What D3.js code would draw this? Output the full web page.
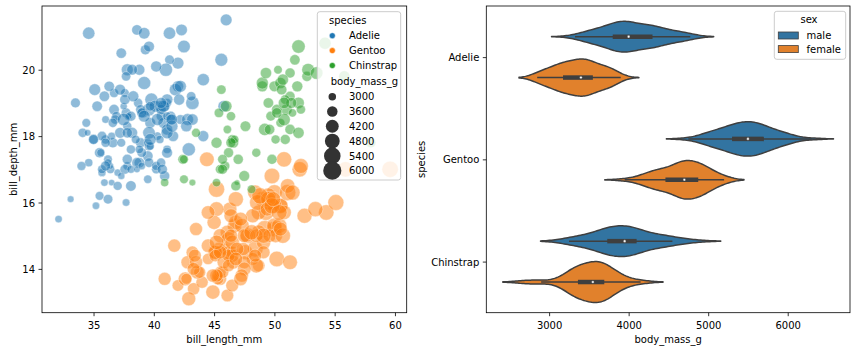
<!DOCTYPE html>
<html>
<head>
<meta charset="utf-8">
<script src="https://cdn.jsdelivr.net/npm/d3@7"></script>
<style>
  body { margin: 0; background: #fff; }
  svg text { font-family: 'DejaVu Sans', sans-serif; font-size: 10px; fill: #000; }
</style>
</head>
<body>
<svg id="chart" width="856" height="352"></svg>
<script>
// [bill_length_mm, bill_depth_mm, body_mass_g, sex]
const adelie = [
  [39.1,18.7,3750,'M'],[39.5,17.4,3800,'F'],[40.3,18.0,3250,'F'],[36.7,19.3,3450,'F'],[39.3,20.6,3650,'M'],
  [38.9,17.8,3625,'F'],[39.2,19.6,4675,'M'],[34.1,18.1,3475,null],[42.0,20.2,4250,null],[37.8,17.1,3300,null],
  [37.8,17.3,3700,null],[41.1,17.6,3200,'F'],[38.6,21.2,3800,'M'],[34.6,21.1,4400,'M'],[36.6,17.8,3700,'F'],
  [38.7,19.0,3450,'F'],[42.5,20.7,4500,'M'],[34.4,18.4,3325,'F'],[46.0,21.5,4200,'M'],[37.8,18.3,3400,'F'],
  [37.7,18.7,3600,'M'],[35.9,19.2,3800,'F'],[38.2,18.1,3950,'M'],[38.8,17.2,3800,'M'],[35.3,18.9,3800,'F'],
  [40.6,18.6,3550,'M'],[40.5,17.9,3200,'F'],[37.9,18.6,3150,'F'],[40.5,18.9,3950,'M'],[39.5,16.7,3250,'F'],
  [37.2,18.1,3900,'M'],[39.5,17.8,3300,'F'],[40.9,18.9,3900,'M'],[36.4,17.0,3325,'F'],[39.2,21.1,4150,'M'],
  [38.8,20.0,3950,'M'],[42.2,18.5,3550,'F'],[37.6,19.3,3300,'F'],[39.8,19.1,4650,'M'],[36.5,18.0,3150,'F'],
  [40.8,18.4,3900,'M'],[36.0,18.5,3100,'F'],[44.1,19.7,4400,'M'],[37.0,16.9,3000,'F'],[39.6,18.8,4600,'M'],
  [41.1,19.0,3425,'M'],[37.5,18.9,2975,null],[36.0,17.9,3450,'F'],[42.3,21.2,4150,'M'],[39.6,17.7,3500,'F'],
  [40.1,18.9,4300,'M'],[35.0,17.9,3450,'F'],[42.0,19.5,4050,'M'],[34.5,18.1,2900,'F'],[41.4,18.6,3700,'M'],
  [39.0,17.5,3550,'F'],[40.6,18.8,3800,'M'],[36.5,16.6,2850,'F'],[37.6,19.1,3750,'M'],[35.7,16.9,3150,'F'],
  [41.3,21.1,4400,'M'],[37.6,17.0,3600,'F'],[41.1,18.2,4050,'M'],[36.4,17.1,2850,'F'],[41.6,18.0,3950,'M'],
  [35.5,16.2,3350,'F'],[41.1,19.1,4100,'M'],[35.9,16.6,3050,'F'],[41.8,19.4,4450,'M'],[33.5,19.0,3600,'F'],
  [39.7,18.4,3900,'M'],[39.6,17.2,3550,'F'],[45.8,18.9,4150,'M'],[35.5,17.5,3700,'F'],[42.8,18.5,4250,'M'],
  [40.9,16.8,3700,'F'],[37.2,19.4,3900,'M'],[36.2,16.1,3550,'F'],[42.1,19.1,4000,'M'],[34.6,17.2,3200,'F'],
  [42.9,17.6,4700,'M'],[36.7,18.8,3800,'F'],[35.1,19.4,4200,'M'],[37.3,17.8,3350,'F'],[41.3,20.3,3550,'M'],
  [36.3,19.5,3800,'M'],[36.9,18.6,3500,'F'],[38.3,19.2,3950,'M'],[38.9,18.8,3600,'F'],[35.7,18.0,3550,'F'],
  [41.1,18.1,4300,'M'],[34.0,17.1,3400,'F'],[39.6,18.1,4450,'M'],[36.2,17.3,3300,'F'],[40.8,18.9,4300,'M'],
  [38.1,18.6,3700,'F'],[40.3,18.5,4350,'M'],[33.1,16.1,2900,'F'],[43.2,18.5,4100,'M'],[35.0,17.9,3725,'F'],
  [41.0,20.0,4725,'M'],[37.7,16.0,3075,'F'],[37.8,20.0,4250,'M'],[37.9,18.6,2925,'F'],[39.7,18.9,3550,'M'],
  [38.6,17.2,3750,'F'],[38.2,20.0,3900,'M'],[38.1,17.0,3175,'F'],[43.2,19.0,4775,'M'],[38.1,16.5,3825,'F'],
  [45.6,20.3,4600,'M'],[39.7,17.7,3200,'F'],[42.2,19.5,4275,'M'],[39.6,20.7,3900,'F'],[42.7,18.3,4075,'M'],
  [38.6,17.0,2900,'F'],[37.3,20.5,3775,'M'],[35.7,17.0,3350,'F'],[41.1,18.6,3325,'M'],[36.2,17.2,3150,'F'],
  [37.7,19.8,3500,'M'],[40.2,17.0,3450,'F'],[41.4,18.5,3875,'M'],[35.2,15.9,3050,'F'],[40.6,19.0,4000,'M'],
  [38.8,17.6,3275,'F'],[41.5,18.3,4300,'M'],[39.0,17.1,3050,'F'],[44.1,18.0,4000,'M'],[38.5,17.9,3325,'F'],
  [43.1,19.2,3500,'M'],[36.8,18.5,3500,'F'],[37.5,18.5,4475,'M'],[38.1,17.6,3425,'F'],[41.1,17.5,3900,'M'],
  [35.6,17.5,3175,'F'],[40.2,20.1,3975,'M'],[37.0,16.5,3400,'F'],[39.7,17.9,4250,'M'],[40.2,17.1,3400,'F'],
  [40.6,17.2,3475,'M'],[32.1,15.5,3050,'F'],[40.7,17.0,3725,'M'],[37.3,16.8,3000,'F'],[39.0,18.7,3650,'M'],
  [39.2,18.6,4250,'M'],[36.6,18.4,3475,'F'],[36.0,17.8,3450,'F'],[37.8,18.1,3750,'M'],[36.0,17.1,3700,'F'],
  [41.5,18.5,4000,'M']
];

const gentoo = [
  [46.1,13.2,4500,'F'],[50.0,16.3,5700,'M'],[48.7,14.1,4450,'F'],[50.0,15.2,5700,'M'],[47.6,14.5,5400,'M'],
  [46.5,13.5,4550,'F'],[45.4,14.6,4800,'F'],[46.7,15.3,5200,'M'],[43.3,13.4,4400,'F'],[46.8,15.4,5150,'M'],
  [40.9,13.7,4650,'F'],[49.0,16.1,5550,'M'],[45.5,13.7,4650,'F'],[48.4,14.6,5850,'M'],[45.8,14.6,4200,'F'],
  [49.3,15.7,5850,'M'],[42.0,13.5,4150,'F'],[49.2,15.2,6300,'M'],[46.2,14.5,4800,'F'],[48.7,15.1,5350,'M'],
  [50.2,14.3,5700,'M'],[45.1,14.5,5000,'F'],[46.5,14.5,4400,'F'],[46.3,15.8,5050,'M'],[42.9,13.1,5000,'F'],
  [46.1,15.1,5100,'M'],[44.5,14.3,4100,null],[47.8,15.0,5650,'M'],[48.2,14.3,4600,'F'],[50.0,15.3,5550,'M'],
  [47.3,15.3,5250,'M'],[42.8,14.2,4700,'F'],[45.1,14.5,5050,'F'],[59.6,17.0,6050,'M'],[49.1,14.8,5150,'F'],
  [48.4,16.3,5400,'M'],[42.6,13.7,4950,'F'],[44.4,17.3,5250,'M'],[44.0,13.6,4350,'F'],[48.7,15.7,5350,'M'],
  [42.7,13.7,3950,'F'],[49.6,16.0,5700,'M'],[45.3,13.7,4300,'F'],[49.6,15.0,4750,'M'],[50.5,15.9,5550,'M'],
  [43.6,13.9,4900,'F'],[45.5,13.9,4200,'F'],[50.5,15.9,5400,'M'],[44.9,13.3,5100,'F'],[45.2,15.8,5300,'M'],
  [46.6,14.2,4850,'F'],[48.5,14.1,5300,'M'],[45.1,14.4,4400,'F'],[50.1,15.0,5000,'M'],[46.5,14.4,4900,'F'],
  [45.0,15.4,5050,'M'],[43.8,13.9,4300,'F'],[45.5,15.0,5000,'M'],[43.2,14.5,4450,'F'],[50.4,15.3,5550,'M'],
  [45.3,13.8,4200,'F'],[46.2,14.9,5300,'M'],[45.7,13.9,4400,'F'],[54.3,15.7,5650,'M'],[45.8,14.2,4700,'F'],
  [49.8,16.8,5700,'M'],[46.2,14.4,4650,null],[49.5,16.2,5800,'M'],[43.5,14.2,4700,'F'],[50.7,15.0,5550,'M'],
  [47.7,15.0,4750,'F'],[46.4,15.6,5000,'M'],[48.2,15.6,5100,'M'],[46.5,14.8,5200,'F'],[46.4,15.0,4700,'F'],
  [48.6,16.0,5800,'M'],[47.5,14.2,4600,'F'],[51.1,16.3,6000,'M'],[45.2,13.8,4750,'F'],[45.2,16.4,5950,'M'],
  [49.1,14.5,4625,'F'],[52.5,15.6,5450,'M'],[47.4,14.6,4725,'F'],[50.0,15.9,5350,'M'],[44.9,13.8,4750,'F'],
  [50.8,17.3,5600,'M'],[43.4,14.4,4600,'F'],[51.3,14.2,5300,'M'],[47.5,14.0,4875,'F'],[52.1,17.0,5550,'M'],
  [47.5,15.0,4950,'F'],[52.2,17.1,5400,'M'],[45.5,14.5,4750,'F'],[49.5,16.1,5650,'M'],[44.5,14.7,4850,'F'],
  [50.8,15.7,5200,'M'],[49.4,15.8,4925,'M'],[46.9,14.6,4875,'F'],[48.4,14.4,4625,'F'],[51.1,16.5,5250,'M'],
  [48.5,15.0,4850,'F'],[55.9,17.0,5600,'M'],[47.2,15.5,4975,'F'],[49.1,15.0,5500,'M'],[47.3,13.8,4725,null],
  [46.8,16.1,5500,'M'],[41.7,14.7,4700,'F'],[53.4,15.8,5500,'M'],[43.3,14.0,4575,'F'],[48.1,15.1,5500,'M'],
  [50.5,15.2,5000,'F'],[49.8,15.9,5950,'M'],[43.5,15.2,4650,'F'],[51.5,16.3,5500,'M'],[46.2,14.1,4375,'F'],
  [55.1,16.0,5850,'M'],[44.5,15.7,4875,null],[48.8,16.2,6000,'M'],[47.2,13.7,4925,'F'],[46.8,14.3,4850,'F'],
  [50.4,15.7,5750,'M'],[45.2,14.8,5200,'F'],[49.9,16.1,5400,'M']
];

const chinstrap = [
  [46.5,17.9,3500,'F'],[50.0,19.5,3900,'M'],[51.3,19.2,3650,'M'],[45.4,18.7,3525,'F'],[52.7,19.8,3725,'M'],
  [45.2,17.8,3950,'F'],[46.1,18.2,3250,'F'],[51.3,18.2,3750,'M'],[46.0,18.9,4150,'F'],[51.3,19.9,3700,'M'],
  [46.6,17.8,3800,'F'],[51.7,20.3,3775,'M'],[47.0,17.3,3700,'F'],[52.0,18.1,4050,'M'],[45.9,17.1,3575,'F'],
  [50.5,19.6,4050,'M'],[50.3,20.0,3300,'M'],[58.0,17.8,3700,'F'],[46.4,18.6,3450,'F'],[49.2,18.2,4400,'M'],
  [42.4,17.3,3600,'F'],[48.5,17.5,3400,'M'],[43.2,16.6,2900,'F'],[50.6,19.4,3800,'M'],[46.7,17.9,3300,'F'],
  [52.0,19.0,4150,'M'],[50.5,18.4,3400,'F'],[49.5,19.0,3800,'M'],[46.4,17.8,3700,'F'],[52.8,20.0,4550,'M'],
  [40.9,16.6,3200,'F'],[54.2,20.8,4300,'M'],[42.5,16.7,3350,'F'],[51.0,18.8,4100,'M'],[49.7,18.6,3600,'M'],
  [47.5,16.8,3900,'F'],[47.6,18.3,3850,'F'],[52.0,20.7,4800,'M'],[46.9,16.6,2700,'F'],[53.5,19.9,4500,'M'],
  [49.0,19.5,3950,'M'],[46.2,17.5,3650,'F'],[50.9,19.1,3550,'M'],[45.5,17.0,3500,'F'],[50.9,17.9,3675,'F'],
  [50.8,18.5,4450,'M'],[50.1,17.9,3400,'F'],[49.0,19.6,4300,'M'],[51.5,18.7,3250,'M'],[49.8,17.3,3675,'F'],
  [48.1,16.4,3325,'F'],[51.4,19.0,3950,'M'],[45.7,17.3,3600,'F'],[50.7,19.7,4050,'M'],[42.5,17.3,3350,'F'],
  [52.2,18.8,3450,'M'],[45.2,16.6,3250,'F'],[49.3,19.9,4050,'M'],[50.2,18.8,3800,'M'],[45.6,19.4,3525,'F'],
  [51.9,19.5,3950,'M'],[46.8,16.5,3650,'F'],[45.7,17.0,3650,'F'],[55.8,19.8,4000,'M'],[43.5,18.1,3400,'F'],
  [49.6,18.2,3775,'M'],[50.8,19.0,4100,'M'],[50.2,18.7,3775,'F']
];

const SPECIES = ['Adelie', 'Gentoo', 'Chinstrap'];
const SPECIES_COLORS = ['#1f77b4', '#ff7f0e', '#2ca02c'];
const SEXES = ['male', 'female'];
const SEX_CODES = ['M', 'F'];
const SEX_COLORS = ['#3274a1', '#e1812c'];
const LEFT_X_TICKS = [35, 40, 45, 50, 55, 60];
const LEFT_Y_TICKS = [14, 16, 18, 20];
const RIGHT_X_TICKS = [3000, 4000, 5000, 6000];
const SIZE_LEGEND = [3000, 3600, 4200, 4800, 5400, 6000];

const LEFT = { x0: 42, x1: 406.7, y0: 6, y1: 312.7 };
const RIGHT = { x0: 486.3, x1: 850, y0: 6, y1: 312.7 };
const GRAY = '#3f3f3f';
const FONT = "'DejaVu Sans', sans-serif";

const svg = d3.select('#chart');

const rows = [];
[adelie, gentoo, chinstrap].forEach((arr, i) => {
  arr.forEach(r => rows.push({ species: SPECIES[i], len: r[0], dep: r[1], mass: r[2], sex: r[3] }));
});

// matplotlib style 5% margins
function padded (ext) {
  const p = (ext[1] - ext[0]) * 0.05;
  return [ext[0] - p, ext[1] + p];
}

function styleAxis (g) {
  g.attr('font-family', FONT).attr('font-size', 10);
  g.select('.domain').remove();
  g.selectAll('.tick line').attr('stroke', '#000').attr('stroke-width', 0.8);
  g.selectAll('.tick text').attr('fill', '#000');
}

function frame (box) {
  svg.append('rect')
    .attr('x', box.x0).attr('y', box.y0)
    .attr('width', box.x1 - box.x0).attr('height', box.y1 - box.y0)
    .attr('fill', 'none').attr('stroke', '#000').attr('stroke-width', 0.8);
}

/* ---------- left: scatter ---------- */
const x = d3.scaleLinear().domain(padded(d3.extent(rows, d => d.len))).range([LEFT.x0, LEFT.x1]);
const y = d3.scaleLinear().domain(padded(d3.extent(rows, d => d.dep))).range([LEFT.y1, LEFT.y0]);
const sizeScale = d3.scaleLinear().domain(d3.extent(rows, d => d.mass)).range([30, 285]);
// legend handles come out a bit larger than the points in the reference
const legendSize = d3.scaleLinear().domain([3000, 6000]).range([56, 330]);
const color = d3.scaleOrdinal(SPECIES, SPECIES_COLORS);
const radius = m => Math.sqrt(sizeScale(m)) / 2;

svg.append('g')
  .selectAll('circle')
  .data(rows)
  .join('circle')
  .attr('cx', d => x(d.len))
  .attr('cy', d => y(d.dep))
  .attr('r', d => radius(d.mass))
  .attr('fill', d => color(d.species))
  .attr('fill-opacity', 0.5)
  .attr('stroke', '#fff')
  .attr('stroke-opacity', 0.5)
  .attr('stroke-width', 0.7);

svg.append('g')
  .attr('transform', `translate(0,${LEFT.y1})`)
  .call(d3.axisBottom(x).tickValues(LEFT_X_TICKS).tickSize(3.5).tickPadding(3.5))
  .call(styleAxis)
  .selectAll('.tick text').attr('y', 16.6).attr('dy', 0);

svg.append('g')
  .attr('transform', `translate(${LEFT.x0},0)`)
  .call(d3.axisLeft(y).tickValues(LEFT_Y_TICKS).tickSize(3.5).tickPadding(3.5))
  .call(styleAxis)
  .selectAll('.tick text').attr('dy', '0.36em');

frame(LEFT);

svg.append('text').attr('x', (LEFT.x0 + LEFT.x1) / 2).attr('y', 342.7)
  .attr('text-anchor', 'middle').text('bill_length_mm');
svg.append('text').attr('transform', `translate(17,${(LEFT.y0 + LEFT.y1) / 2}) rotate(-90)`)
  .attr('text-anchor', 'middle').text('bill_depth_mm');

// scatter legend
const lg = svg.append('g');
lg.append('rect')
  .attr('x', 317.3).attr('y', 11.7).attr('width', 83.4).attr('height', 168.3)
  .attr('rx', 2.5).attr('fill', '#fff').attr('fill-opacity', 0.8)
  .attr('stroke', '#ccc').attr('stroke-width', 1);
lg.append('text').attr('x', 329).attr('y', 23.7).text('species');
SPECIES.forEach((s, i) => {
  const cy = 35.7 + i * 14.9;
  lg.append('circle').attr('cx', 332.3).attr('cy', cy).attr('r', 3)
    .attr('fill', SPECIES_COLORS[i]).attr('stroke', '#fff').attr('stroke-width', 0.5);
  lg.append('text').attr('x', 349).attr('y', cy + 3.65).text(s);
});
lg.append('text').attr('x', 330.7).attr('y', 85.3).text('body_mass_g');
SIZE_LEGEND.forEach((m, i) => {
  const cy = 96.7 + i * 14.8;
  lg.append('circle').attr('cx', 332.3).attr('cy', cy).attr('r', Math.sqrt(legendSize(m)) / 2)
    .attr('fill', '#333');
  lg.append('text').attr('x', 349).attr('y', cy + 3.65).text(m);
});

/* ---------- right: violins ---------- */
function kde (values) {
  const n = values.length;
  const bw = d3.deviation(values) * Math.pow(n, -0.2);
  const lo = d3.min(values) - 2 * bw;
  const hi = d3.max(values) + 2 * bw;
  const k = 1 / (n * bw * Math.sqrt(2 * Math.PI));
  return d3.range(100).map(i => {
    const g = lo + (hi - lo) * i / 99;
    return [g, k * d3.sum(values, v => Math.exp(-0.5 * ((g - v) / bw) ** 2))];
  });
}

const groups = [];
SPECIES.forEach((s, i) => {
  SEXES.forEach((sex, j) => {
    const values = rows.filter(d => d.species === s && d.sex === SEX_CODES[j]).map(d => d.mass).sort(d3.ascending);
    groups.push({ i, j, values, density: kde(values) });
  });
});

const maxDensity = d3.max(groups, g => d3.max(g.density, d => d[1]));
const xr = d3.scaleLinear()
  .domain(padded([d3.min(groups, g => g.density[0][0]), d3.max(groups, g => g.density[g.density.length - 1][0])]))
  .range([RIGHT.x0, RIGHT.x1]);
const yr = d3.scaleLinear().domain([-0.5, 2.5]).range([RIGHT.y0, RIGHT.y1]);
const band = yr(1) - yr(0);

const vg = svg.append('g');
groups.forEach(g => {
  const center = yr(g.i + (g.j === 0 ? -0.2 : 0.2));
  const half = d => d[1] / maxDensity * 0.2 * band;
  const area = d3.area()
    .x(d => xr(d[0]))
    .y0(d => center - half(d))
    .y1(d => center + half(d));
  vg.append('path')
    .attr('d', area(g.density))
    .attr('fill', SEX_COLORS[g.j])
    .attr('stroke', GRAY)
    .attr('stroke-width', 1.5)
    .attr('stroke-linejoin', 'round');

  const q1 = d3.quantile(g.values, 0.25);
  const q2 = d3.quantile(g.values, 0.5);
  const q3 = d3.quantile(g.values, 0.75);
  const lim = 1.5 * (q3 - q1);
  const h1 = d3.min(g.values.filter(v => v >= q1 - lim));
  const h2 = d3.max(g.values.filter(v => v <= q3 + lim));
  vg.append('line').attr('x1', xr(h1)).attr('x2', xr(h2)).attr('y1', center).attr('y2', center)
    .attr('stroke', GRAY).attr('stroke-width', 1.5);
  vg.append('line').attr('x1', xr(q1)).attr('x2', xr(q3)).attr('y1', center).attr('y2', center)
    .attr('stroke', GRAY).attr('stroke-width', 4.5);
  vg.append('circle').attr('cx', xr(q2)).attr('cy', center).attr('r', 1.3)
    .attr('fill', '#fff').attr('stroke', GRAY).attr('stroke-width', 0.4);
});

svg.append('g')
  .attr('transform', `translate(0,${RIGHT.y1})`)
  .call(d3.axisBottom(xr).tickValues(RIGHT_X_TICKS).tickFormat(d3.format('d')).tickSize(3.5).tickPadding(3.5))
  .call(styleAxis)
  .selectAll('.tick text').attr('y', 16.6).attr('dy', 0);

svg.append('g')
  .attr('transform', `translate(${RIGHT.x0},0)`)
  .call(d3.axisLeft(yr).tickValues([0, 1, 2]).tickFormat(i => SPECIES[i]).tickSize(3.5).tickPadding(3.5))
  .call(styleAxis)
  .selectAll('.tick text').attr('dy', '0.36em');

frame(RIGHT);

svg.append('text').attr('x', (RIGHT.x0 + RIGHT.x1) / 2).attr('y', 342.7)
  .attr('text-anchor', 'middle').text('body_mass_g');
svg.append('text').attr('transform', `translate(424.7,${(RIGHT.y0 + RIGHT.y1) / 2}) rotate(-90)`)
  .attr('text-anchor', 'middle').text('species');

// sex legend
const sg = svg.append('g');
sg.append('rect')
  .attr('x', 774.3).attr('y', 11.3).attr('width', 71.4).attr('height', 48)
  .attr('rx', 2.5).attr('fill', '#fff').attr('fill-opacity', 0.8)
  .attr('stroke', '#ccc').attr('stroke-width', 1);
sg.append('text').attr('x', 809).attr('y', 23).attr('text-anchor', 'middle').text('sex');
SEXES.forEach((s, j) => {
  const cy = 35.5 + j * 13.6;
  sg.append('rect').attr('x', 778.3).attr('y', cy - 3.5).attr('width', 20).attr('height', 7)
    .attr('fill', SEX_COLORS[j]).attr('stroke', GRAY).attr('stroke-width', 0.8);
  sg.append('text').attr('x', 806.5).attr('y', cy + 3.65).text(s);
});
</script>
</body>
</html>
